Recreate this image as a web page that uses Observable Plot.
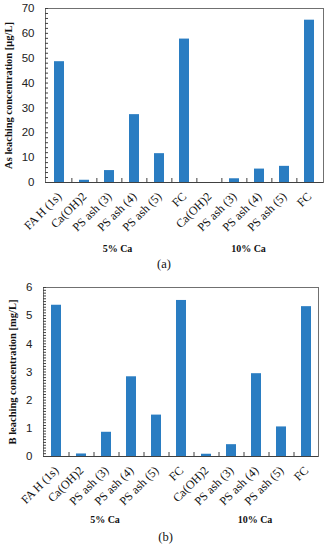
<!DOCTYPE html>
<html><head><meta charset="utf-8">
<script src="https://cdn.jsdelivr.net/npm/d3@7"></script>
<script src="https://cdn.jsdelivr.net/npm/@observablehq/plot@0.6"></script>
<style>body{margin:0;background:#fff;} #chart svg{display:block;}</style>
</head><body><div id="chart"></div>
<script>
const categories = ["FA H (1s)","Ca(OH)2","PS ash (3)","PS ash (4)","PS ash (5)","FC","Ca(OH)2","PS ash (3)","PS ash (4)","PS ash (5)","FC"];
const groups = ["5% Ca","5% Ca","5% Ca","5% Ca","5% Ca","5% Ca","10% Ca","10% Ca","10% Ca","10% Ca","10% Ca"];
const asValues = [48.6, 0.9, 4.8, 27.3, 11.6, 57.7, 0, 1.5, 5.4, 6.5, 65.3];
const bValues = [5.37, 0.09, 0.86, 2.83, 1.47, 5.54, 0.08, 0.42, 2.94, 1.05, 5.32];
const asTicks = [0,10,20,30,40,50,60,70];
const bTicks = [0,1,2,3,4,5,6];
const groupNames = ["5% Ca","10% Ca"];

const BLUE = "#2a7dc2";
const SERIF = "Liberation Serif, Times New Roman, serif";
const SANS = "Liberation Sans, Arial, sans-serif";

function chart(o) {
  const keys = categories.map((c, i) => i);
  const rows = keys.map(i => ({key: i, label: categories[i], group: groups[i], value: o.values[i]}));
  const step = (327 - o.marginLeft - o.marginRight) / keys.length;
  const minor = d3.range(0, o.minorCount + 1).map(d => d * o.minorStep);
  const groupRows = groupNames.map((g, j) => ({name: g, key: o.groupAnchors[j]}));
  const groupStyle = {x: "key", text: "name", frameAnchor: "bottom", dy: o.groupDy, fontFamily: SERIF, fontWeight: "bold", fontSize: 10, fill: "#111"};
  return Plot.plot({
    width: 327,
    height: o.height,
    marginTop: o.marginTop,
    marginBottom: o.marginBottom,
    marginLeft: o.marginLeft,
    marginRight: o.marginRight,
    style: {background: "white", overflow: "visible", color: "#222"},
    x: {domain: keys, paddingInner: 0.6, paddingOuter: 0.3, axis: null},
    y: {domain: o.yDomain, axis: null},
    marks: [
      Plot.barY(rows, {x: "key", y: "value", fill: BLUE}),
      Plot.frame({stroke: "#707070"}),
      Plot.ruleY([0], {stroke: "#404040"}),
      Plot.axisY(o.majorTicks, {tickSize: 0, tickPadding: 11, fontFamily: SANS, fontSize: 11.5, fill: "#222", label: null}),
      Plot.axisY(minor, {tickSize: -3, tickFormat: () => "", stroke: "#404040", label: null}),
      Plot.axisX(keys.slice(1), {tickSize: -4, tickFormat: () => "", dx: -step / 2, stroke: "#404040", label: null}),
      Plot.axisX(keys, {tickSize: 0, tickPadding: 12, tickRotate: -45, tickFormat: i => categories[i], fontFamily: SERIF, fontSize: 12, fill: "#111", label: null}),
      Plot.text([o.yTitle], {frameAnchor: "left", dx: -o.titleDx, rotate: -90, textAnchor: "middle", fontFamily: SERIF, fontWeight: "bold", fontSize: 10.5, fill: "#111"}),
      Plot.text(groupRows.slice(0, 1), {...groupStyle, dx: o.groupDx[0]}),
      Plot.text(groupRows.slice(1), {...groupStyle, dx: o.groupDx[1]}),
      Plot.text([o.caption], {frameAnchor: "bottom", dy: o.captionDy, dx: o.captionDx, fontFamily: SERIF, fontSize: 12.5, fill: "#111"})
    ]
  });
}

const root = document.getElementById("chart");
root.append(chart({
  values: asValues, yDomain: [0, 70], majorTicks: asTicks, minorStep: 2, minorCount: 35,
  yTitle: "As leaching concentration [μg/L]", caption: "(a)",
  height: 277, marginTop: 8, marginBottom: 95, marginLeft: 45, marginRight: 4,
  titleDx: 37, groupAnchors: [2, 8], groupDx: [8, -11], groupDy: 69, captionDx: -20.5, captionDy: 85
}));
root.append(chart({
  values: bValues, yDomain: [0, 6], majorTicks: bTicks, minorStep: 0.1, minorCount: 60,
  yTitle: "B leaching concentration [mg/L]", caption: "(b)",
  height: 273, marginTop: 10, marginBottom: 94, marginLeft: 43, marginRight: 9,
  titleDx: 31, groupAnchors: [2, 8], groupDx: [-1.5, -1.5], groupDy: 66, captionDx: -15.5, captionDy: 84
}));
</script>
</body></html>
